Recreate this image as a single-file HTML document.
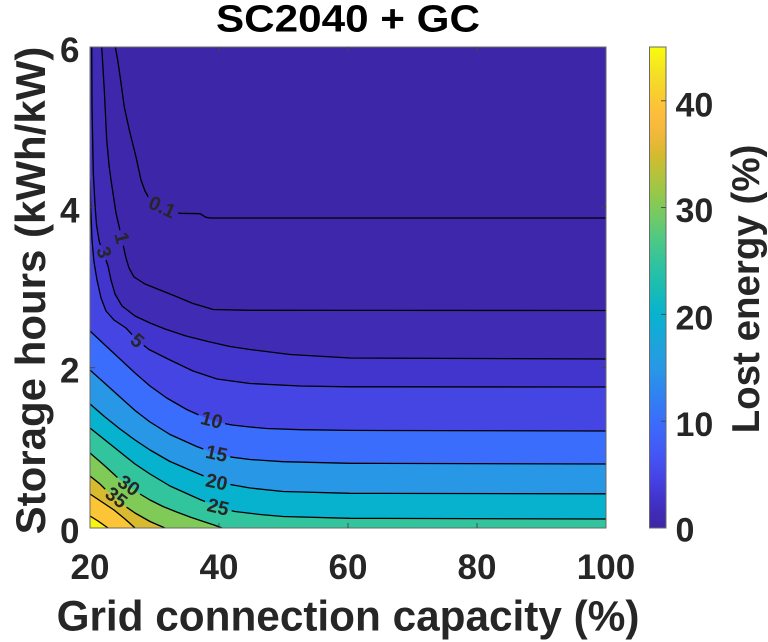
<!DOCTYPE html>
<html><head><meta charset="utf-8"><style>
html,body{margin:0;padding:0;background:#fff;overflow:hidden}
svg{display:block}
text{font-family:"Liberation Sans",Arial,sans-serif;font-weight:bold}
</style></head><body>
<svg width="768" height="642" viewBox="0 0 768 642" xmlns="http://www.w3.org/2000/svg">
<defs>
<linearGradient id="pg" x1="0" y1="1" x2="0" y2="0">
<stop offset="0" stop-color="#3e26a8"/>
<stop offset="0.03" stop-color="#3f2bb4"/>
<stop offset="0.067" stop-color="#4335d1"/>
<stop offset="0.111" stop-color="#4646e8"/>
<stop offset="0.16" stop-color="#4259f5"/>
<stop offset="0.222" stop-color="#3b6dfb"/>
<stop offset="0.28" stop-color="#2f84f0"/>
<stop offset="0.333" stop-color="#2898e5"/>
<stop offset="0.39" stop-color="#1aa6da"/>
<stop offset="0.444" stop-color="#07b3cf"/>
<stop offset="0.5" stop-color="#1abcb3"/>
<stop offset="0.556" stop-color="#33c49c"/>
<stop offset="0.61" stop-color="#55c97e"/>
<stop offset="0.667" stop-color="#80ca58"/>
<stop offset="0.72" stop-color="#a9c540"/>
<stop offset="0.778" stop-color="#d6ba30"/>
<stop offset="0.82" stop-color="#f2b83b"/>
<stop offset="0.86" stop-color="#fdbd3c"/>
<stop offset="0.889" stop-color="#fbc833"/>
<stop offset="0.94" stop-color="#f4de26"/>
<stop offset="1" stop-color="#f9fb0e"/>
</linearGradient>
<clipPath id="cp"><rect x="90" y="47" width="516" height="481"/></clipPath>
<mask id="lm" maskUnits="userSpaceOnUse" x="0" y="0" width="768" height="642">
<rect x="0" y="0" width="768" height="642" fill="#fff"/>
<rect x="145" y="199.5" width="34" height="16" fill="#000" transform="rotate(25 162 207.5)"/>
<rect x="113.5" y="230" width="16" height="16" fill="#000" transform="rotate(75 121.5 238)"/>
<rect x="95.5" y="244.5" width="16" height="16" fill="#000" transform="rotate(72 103.5 252.5)"/>
<rect x="129" y="333" width="16" height="16" fill="#000" transform="rotate(40 137 341)"/>
<rect x="197.5" y="412.5" width="28" height="16" fill="#000" transform="rotate(15 211.5 420.5)"/>
<rect x="202.5" y="446" width="28" height="16" fill="#000" transform="rotate(12 216.5 454)"/>
<rect x="202.5" y="474.5" width="28" height="16" fill="#000" transform="rotate(12 216.5 482.5)"/>
<rect x="204" y="499.5" width="28" height="16" fill="#000" transform="rotate(14 218 507.5)"/>
<rect x="114.5" y="478" width="28" height="16" fill="#000" transform="rotate(35 128.5 486)"/>
<rect x="102" y="490" width="28" height="16" fill="#000" transform="rotate(37 116 498)"/>
</mask>
</defs>

<g clip-path="url(#cp)">
<rect x="90" y="47" width="516" height="481" fill="#3e26a8"/>
<polygon fill="#3e27ab" points="115.3,47 117.7,60 121,83 124.3,107 129.3,130 136,157 141,180 145,191 150,200 156,204.5 163,208.5 171,211.5 180,213.3 200,213.7 206,217.3 210,218 606,218 606,528 90,528 90,47"/>
<polygon fill="#3f2bb4" points="101.7,47 104.3,90 106.7,140 109,165 111,180 114,200 116,213 119,226 121.5,238 124,249 126,258 129,268 134,277 145,284 160,290 175,296 193,303.5 205,307 213,309.5 250,310.3 606,310.5 606,528 90,528 90,47"/>
<polygon fill="#4235cd" points="91.7,47 92,107 93.3,173 95,205 96.5,225 99.3,242 103.5,253 108,266 111,280 115,294 122,306 135,316 150,323 165,329 186,336 210,342 230,346.5 250,349.5 290,354.5 350,358 606,359 606,528 90,528 90,47"/>
<polygon fill="#4545e4" points="90,179 90.8,210 92,240 94,262 97,280 101,298 106,311 114,320 126,328 137,340 149,349.5 170,360 193,371 217,379 250,383.5 300,386 350,386.8 606,387 606,528 90,528"/>
<polygon fill="#3a6dfb" points="90,331 106,346 120,359 135,373 150,386 166.7,398 186.7,409.5 200,415.5 212,420.5 222,423 232,425 250,427 267,428.5 300,429.7 350,430.4 606,431 606,528 90,528"/>
<polygon fill="#2897e5" points="90,370 105,383.5 120,397 135,410.5 150,422 170,434.5 196.7,446.5 210,451.5 216.7,454 225,456 233,457.3 250,459.5 283,461.7 350,463.3 606,464 606,528 90,528"/>
<polygon fill="#07b2cf" points="90,404 105,417 120,429 135,440 150,450 170,461.5 196.7,473 210,478.5 216.7,481.5 225,483.5 233,485 250,488 283,491.5 350,493.3 606,493.8 606,528 90,528"/>
<polygon fill="#32c49c" points="90,428 105,440 120,452 135,464 150,474 170,486 200,499.5 210,503.5 218,507 226,509.5 235,511.5 260,514.5 283,516.5 350,518.3 606,519 606,528 90,528"/>
<polygon fill="#80ca58" points="90,453 105,466 118,478 128,486 140,494 150,500 163,506.5 176.7,512 190,517 203.3,521.5 214,525 222,528 90,528"/>
<polygon fill="#d8ba30" points="90,476 100,484 108,492 115,498 122,504 135,513 150,521.5 158,525 165,528 90,528"/>
<polygon fill="#fcc437" points="90,494 102,502 114,510 125,519 135,528 90,528"/>
<polygon fill="#f8f40f" points="90,516 98,521 108,528 90,528"/>

<g fill="none" stroke="#000" stroke-width="1.3" stroke-linejoin="round" mask="url(#lm)">
<polyline points="115.3,47 117.7,60 121,83 124.3,107 129.3,130 136,157 141,180 145,191 150,200 156,204.5 163,208.5 171,211.5 180,213.3 200,213.7 206,217.3 210,218 606,218"/>
<polyline points="101.7,47 104.3,90 106.7,140 109,165 111,180 114,200 116,213 119,226 121.5,238 124,249 126,258 129,268 134,277 145,284 160,290 175,296 193,303.5 205,307 213,309.5 250,310.3 606,310.5"/>
<polyline points="91.7,47 92,107 93.3,173 95,205 96.5,225 99.3,242 103.5,253 108,266 111,280 115,294 122,306 135,316 150,323 165,329 186,336 210,342 230,346.5 250,349.5 290,354.5 350,358 606,359"/>
<polyline points="90,179 90.8,210 92,240 94,262 97,280 101,298 106,311 114,320 126,328 137,340 149,349.5 170,360 193,371 217,379 250,383.5 300,386 350,386.8 606,387"/>
<polyline points="90,331 106,346 120,359 135,373 150,386 166.7,398 186.7,409.5 200,415.5 212,420.5 222,423 232,425 250,427 267,428.5 300,429.7 350,430.4 606,431"/>
<polyline points="90,370 105,383.5 120,397 135,410.5 150,422 170,434.5 196.7,446.5 210,451.5 216.7,454 225,456 233,457.3 250,459.5 283,461.7 350,463.3 606,464"/>
<polyline points="90,404 105,417 120,429 135,440 150,450 170,461.5 196.7,473 210,478.5 216.7,481.5 225,483.5 233,485 250,488 283,491.5 350,493.3 606,493.8"/>
<polyline points="90,428 105,440 120,452 135,464 150,474 170,486 200,499.5 210,503.5 218,507 226,509.5 235,511.5 260,514.5 283,516.5 350,518.3 606,519"/>
<polyline points="90,453 105,466 118,478 128,486 140,494 150,500 163,506.5 176.7,512 190,517 203.3,521.5 214,525 222,528"/>
<polyline points="90,476 100,484 108,492 115,498 122,504 135,513 150,521.5 158,525 165,528"/>
<polyline points="90,494 102,502 114,510 125,519 135,528"/>
<polyline points="90,516 98,521 108,528"/>
</g>
</g>

<g fill="#262626" font-size="19.5" text-anchor="middle" dominant-baseline="central">
<text transform="translate(162 207.5) rotate(25)">0.1</text>
<text transform="translate(121.5 238) rotate(75)">1</text>
<text transform="translate(103.5 252.5) rotate(72)">3</text>
<text transform="translate(137 341) rotate(40)">5</text>
<text transform="translate(211.5 420.5) rotate(15)">10</text>
<text transform="translate(216.5 454) rotate(12)">15</text>
<text transform="translate(216.5 482.5) rotate(12)">20</text>
<text transform="translate(218 507.5) rotate(14)">25</text>
<text transform="translate(128.5 486) rotate(35)">30</text>
<text transform="translate(116 498) rotate(37)">35</text>
</g>

<rect x="90" y="47" width="516" height="481" fill="none" stroke="#6a6a6a" stroke-width="1"/>
<g stroke="#444" stroke-width="0.9">
<line x1="219" y1="528" x2="219" y2="523"/><line x1="348" y1="528" x2="348" y2="523"/><line x1="477" y1="528" x2="477" y2="523"/>
<line x1="219" y1="47" x2="219" y2="52"/><line x1="348" y1="47" x2="348" y2="52"/><line x1="477" y1="47" x2="477" y2="52"/>
<line x1="90" y1="207.3" x2="95" y2="207.3"/><line x1="90" y1="367.7" x2="95" y2="367.7"/>
<line x1="606" y1="207.3" x2="601" y2="207.3"/><line x1="606" y1="367.7" x2="601" y2="367.7"/>
</g>

<rect x="649.5" y="47" width="16.5" height="481" fill="url(#pg)" stroke="#6a6a6a" stroke-width="1"/>
<g stroke="#444" stroke-width="0.9">
<line x1="661" y1="100.8" x2="666" y2="100.8"/><line x1="661" y1="207.6" x2="666" y2="207.6"/>
<line x1="661" y1="314.4" x2="666" y2="314.4"/><line x1="661" y1="421.2" x2="666" y2="421.2"/>
</g>

<text x="216" y="31.5" font-size="38" fill="#000" textLength="264" lengthAdjust="spacingAndGlyphs">SC2040 + GC</text>

<g fill="#262626" font-size="35" text-anchor="middle">
<text x="90" y="579">20</text>
<text x="219" y="579">40</text>
<text x="348" y="579">60</text>
<text x="477" y="579">80</text>
<text x="606" y="579">100</text>
</g>
<g fill="#262626" font-size="35" text-anchor="end">
<text x="79.5" y="543">0</text>
<text x="79.5" y="382.7">2</text>
<text x="79.5" y="222.3">4</text>
<text x="79.5" y="62">6</text>
</g>
<g fill="#262626" font-size="34" text-anchor="start">
<text x="675.5" y="541.5">0</text>
<text x="675.5" y="436">10</text>
<text x="675.5" y="329.5">20</text>
<text x="675.5" y="222">30</text>
<text x="675.5" y="116.5">40</text>
</g>

<text x="348" y="630.5" font-size="42.3" fill="#262626" text-anchor="middle">Grid connection capacity (%)</text>
<text transform="translate(45 290.5) rotate(-90)" font-size="42" fill="#262626" text-anchor="middle">Storage hours (kWh/kW)</text>
<text transform="translate(759 289) rotate(-90)" font-size="38.5" fill="#262626" text-anchor="middle">Lost energy (%)</text>
</svg>
</body></html>
